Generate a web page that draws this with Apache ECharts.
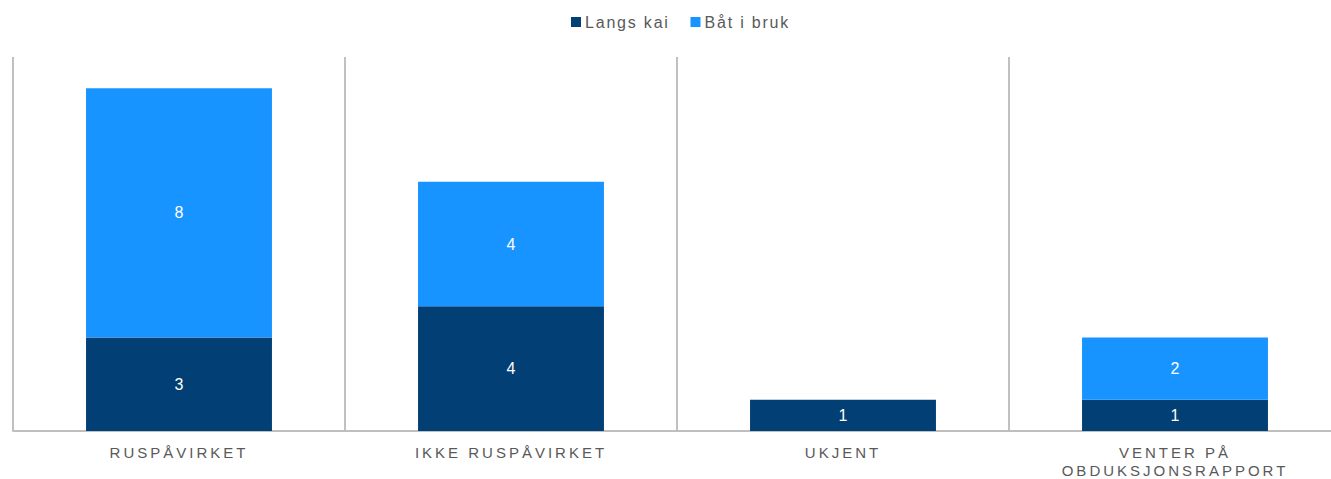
<!DOCTYPE html>
<html>
<head>
<meta charset="utf-8">
<script src="https://cdn.jsdelivr.net/npm/echarts@6/dist/echarts.min.js"></script>
<style>
html, body { margin: 0; padding: 0; background: #fff; overflow: hidden; }
#main { width: 1331px; height: 479px; }
</style>
</head>
<body>
<div id="main"></div>
<script>
var categories = ['RUSPÅVIRKET', 'IKKE RUSPÅVIRKET', 'UKJENT', 'VENTER PÅ\nOBDUKSJONSRAPPORT'];
var langsKai = [3, 4, 1, 1];
var batIBruk = [8, 4, 0, 2];
var seriesNames = ['Langs kai', 'Båt i bruk'];

var chart = echarts.init(document.getElementById('main'), null, { renderer: 'svg' });

// skjul etiketter for tomme segmenter
function lbl(p) {
    return p.value ? p.value : '';
}

// sperret tekst som i originalen (svg-tekst)
function spacing() {
    var els = document.querySelectorAll('#main text');
    for (var i = 0; i < els.length; i++) {
        var t = els[i].textContent;
        if (/^\d+$/.test(t)) continue;
        els[i].style.letterSpacing = seriesNames.indexOf(t) >= 0 ? '1.8px' : '3px';
    }
}

chart.setOption({
    animation: false,
    textStyle: { fontFamily: 'Liberation Sans, Arial, sans-serif' },
    legend: {
        top: 14,
        left: 571,
        padding: 0,
        icon: 'rect',
        itemWidth: 10,
        itemHeight: 10,
        itemGap: 37,
        textStyle: { color: '#595959', fontSize: 16, padding: [0, 0, 0, -1] },
        data: seriesNames
    },
    // siste kategorigrense ligger utenfor bildet
    grid: { left: 13, top: 57, bottom: 48, right: -10, outerBoundsMode: 'none', containLabel: false },
    xAxis: {
        type: 'category',
        data: categories,
        axisLine: { lineStyle: { color: '#bfbfbf', width: 2 } },
        axisTick: { show: false },
        axisLabel: {
            color: '#595959',
            fontSize: 15,
            margin: 12,
            lineHeight: 18,
            interval: 0
        },
        splitLine: {
            show: true,
            lineStyle: { color: '#c0c0c0', width: 2 }
        }
    },
    yAxis: {
        type: 'value',
        min: 0,
        max: 12,
        show: false
    },
    series: [
        {
            name: 'Langs kai',
            type: 'bar',
            stack: 'a',
            barWidth: '56%',
            itemStyle: { color: '#023f74' },
            label: { show: true, position: 'inside', color: '#fff', fontSize: 16, formatter: lbl },
            data: langsKai
        },
        {
            name: 'Båt i bruk',
            type: 'bar',
            stack: 'a',
            barWidth: '56%',
            itemStyle: { color: '#1794ff' },
            label: { show: true, position: 'inside', color: '#fff', fontSize: 16, formatter: lbl },
            data: batIBruk
        }
    ]
});
chart.on('finished', spacing);
spacing();
</script>
</body>
</html>
